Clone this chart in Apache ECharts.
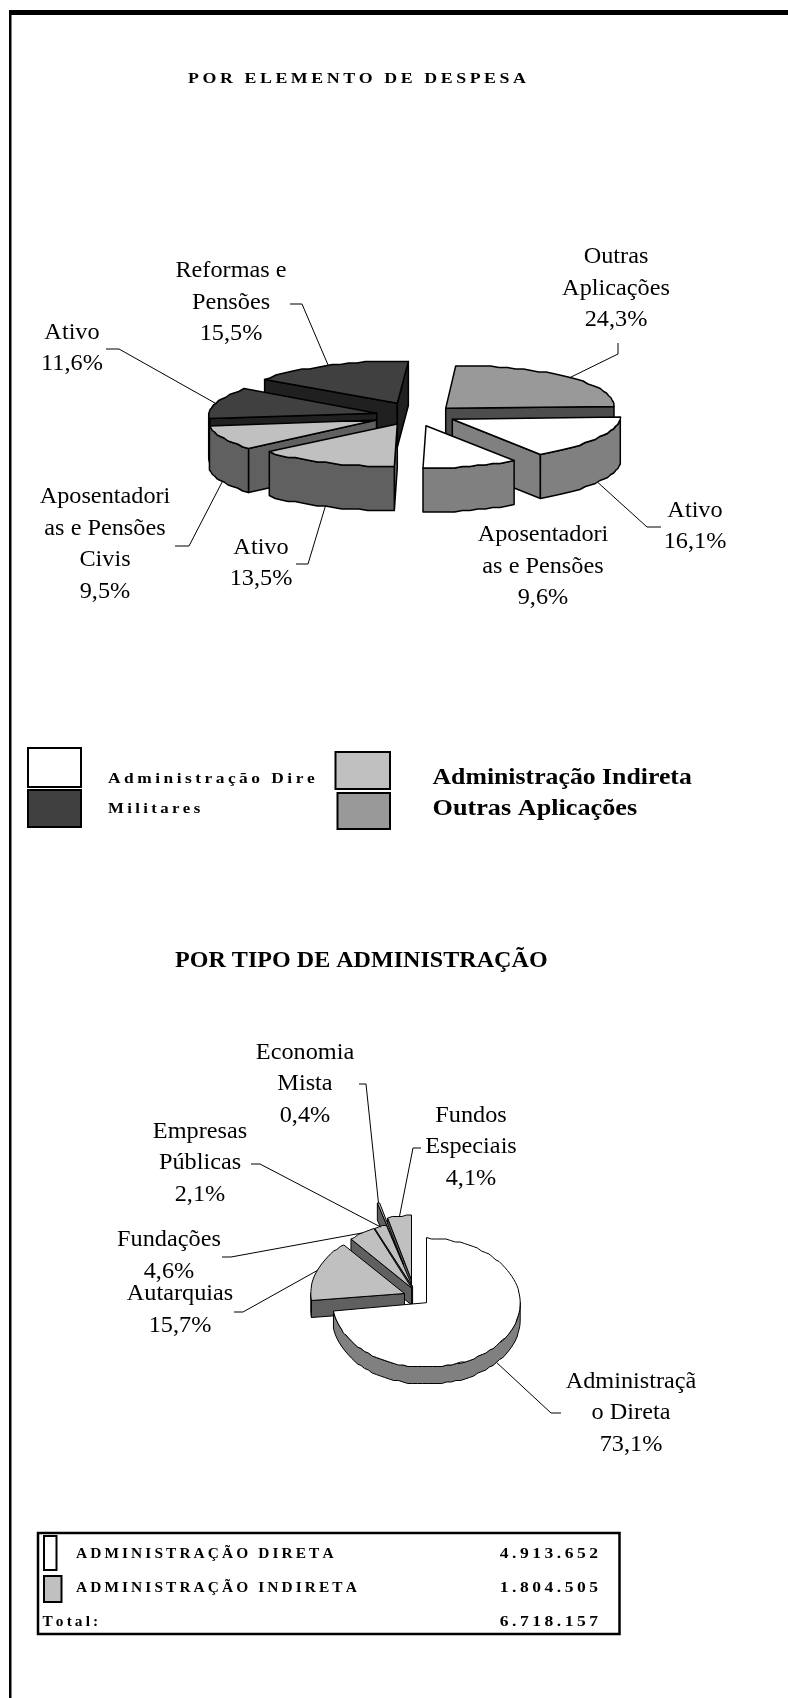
<!DOCTYPE html>
<html>
<head>
<meta charset="utf-8">
<title>Despesa</title>
<script src="https://cdn.jsdelivr.net/npm/echarts@6/dist/echarts.min.js"></script>
<style>
    html, body { margin: 0; padding: 0; background: #fff; }
    #main { width: 788px; height: 1698px; }
</style>
</head>
<body>
<div id="main"></div>
<script>
    // chart data
    const despesaNames = ['Outras\nAplicações', 'Ativo', 'Aposentadori\nas e Pensões', 'Ativo', 'Aposentadori\nas e Pensões\nCivis', 'Ativo', 'Reformas e\nPensões']
    const despesaValues = [24.3, 16.1, 9.6, 13.5, 9.5, 11.6, 15.5]
    const tipoNames = ['Administraçã\no Direta', 'Autarquias', 'Fundações', 'Empresas\nPúblicas', 'Economia\nMista', 'Fundos\nEspeciais']
    const tipoValues = [73.1, 15.7, 4.6, 2.1, 0.4, 4.1]
    const legendLeft = ['Administração Dire', 'Militares']
    const legendRight = ['Administração Indireta', 'Outras Aplicações']
    const tableNames = ['ADMINISTRAÇÃO DIRETA', 'ADMINISTRAÇÃO INDIRETA', 'Total:']
    const tableValues = ['4.913.652', '1.804.505', '6.718.157']

    // look of the two pies, slices clockwise from 12 o'clock
    const WHITE = '#ffffff', LIGHT = '#c0c0c0', MID = '#999999', DARK = '#404040'
    const despesaLook = {
        rx: 168, ry: 42.5, depth: 44, skewTop: 10, skewBottom: 3, narrow: 0.06, line: 1.5,
        order: [6, 0, 5, 4, 3, 1, 2],
        apex: [[445.7, 408.3], [452.3, 419.3], [426, 425.7], [397.3, 424], [376.5, 420], [376.7, 413.3], [397.3, 403.3]],
        top: [MID, WHITE, WHITE, LIGHT, LIGHT, DARK, DARK],
        side: ['#4d4d4d', '#808080', '#808080', '#606060', '#606060', '#202020', '#202020'],
        label: [[616, 288.5], [695, 526.5], [543, 566.5], [261, 563.5], [105, 544.5], [72, 348.5], [231, 302.5]],
        elbow: [[[618, 343], [618, 354]], [[661, 527], [647, 527]], null, [[296, 564], [308, 564]], [[175, 546], [189, 546]], [[106, 349], [119, 349]], [[290, 304], [302, 304]]]
    }
    const tipoLook = {
        rx: 93.7, ry: 64.5, depth: 17, skewTop: 0, skewBottom: 0, narrow: 0, line: 1,
        order: [5, 4, 3, 2, 1, 0],
        apex: [[426.5, 1302.7], [404.5, 1293.5], [411.6, 1288], [412.6, 1287], [403.5, 1264.7], [411.5, 1280]],
        top: [WHITE, LIGHT, LIGHT, LIGHT, LIGHT, LIGHT],
        side: ['#808080', '#606060', '#606060', '#606060', '#606060', '#606060'],
        label: [[631, 1413], [180, 1310], [169, 1256], [200, 1163], [305, 1084], [471, 1147]],
        elbow: [[[561, 1413], [551, 1413]], [[234, 1312], [243, 1312]], [[222, 1257], [231, 1257]], [[251, 1164], [260, 1164]], [[359, 1084], [366, 1084]], [[421, 1148], [413, 1148]]]
    }

    const spaced = (str, sep) => str.split('').join(sep || '\u2009')
    const percent = v => v.toFixed(1).replace('.', ',') + '%'

    function pieItem(values, names, look) {
        // cumulative angles in degrees
        const from = []
        let sum = 0
        values.forEach(v => { from.push(sum * 3.6); sum += v })

        return function (params, api) {
            const i = api.value(0)
            const a0 = from[i]
            const a1 = a0 + api.value(1) * 3.6
            const [cx, cy] = look.apex[i]

            const edge = deg => {
                const t = deg * Math.PI / 180
                const c = Math.cos(t)
                const s = Math.sin(t)
                // lower right quarter is drawn a bit narrower in the original
                const rx = c < 0 && s > 0 ? look.rx * (1 + look.narrow * c) : look.rx
                const x = cx + rx * s + c * (c > 0 ? look.skewTop : look.skewBottom)
                // the rim of the original is a little stepped
                return [x, Math.round((cy - look.ry * c) / 1.5) * 1.5]
            }
            const down = p => [p[0], p[1] + look.depth]
            const arc = (s, e) => {
                const pts = []
                const n = Math.max(1, Math.round((e - s) / 3))
                for (let k = 0; k <= n; k++) pts.push(edge(s + (e - s) * k / n))
                return pts
            }
            const face = (points, fill) => ({
                type: 'polygon',
                shape: { points },
                style: { fill, stroke: '#000', lineWidth: look.line, lineJoin: 'round' }
            })
            const cut = a => {
                const p = edge(a)
                return face([[cx, cy], p, down(p), [cx, cy + look.depth]], look.side[i])
            }

            const children = []
            // only the cut faces turned towards the viewer
            if (a0 >= 180) children.push(cut(a0))
            if (a1 <= 180 || a1 > 359.9) children.push(cut(a1))
            const w0 = Math.max(a0, 90), w1 = Math.min(a1, 270)
            if (w0 < w1) {
                const rim = arc(w0, w1)
                children.push(face(rim.concat(rim.map(down).reverse()), look.side[i]))
            }
            children.push(face([[cx, cy]].concat(arc(a0, a1)), look.top[i]))

            // leader line lands on the middle of the slice's rim
            if (look.elbow[i]) {
                const mid = (a0 + a1) / 2
                const tip = mid > 90 && mid < 270 ? down(edge(mid)) : edge(mid)
                children.push({
                    type: 'polyline',
                    shape: { points: look.elbow[i].concat([tip]) },
                    style: { fill: 'none', stroke: '#000', lineWidth: 1 }
                })
            }
            children.push({
                type: 'text',
                x: look.label[i][0],
                y: look.label[i][1],
                scaleX: 1.055,
                style: {
                    text: names[i] + '\n' + percent(values[i]),
                    font: '23px "Liberation Serif"',
                    lineHeight: 31.5,
                    fill: '#000',
                    align: 'center',
                    verticalAlign: 'middle'
                }
            })
            return { type: 'group', children }
        }
    }

    function pieSeries(values, names, look) {
        return {
            type: 'custom',
            coordinateSystem: 'none',
            silent: true,
            animation: false,
            clip: false,
            renderItem: pieItem(values, names, look),
            data: look.order.map(i => [i, values[i]])
        }
    }

    const box = (x, y, w, h, fill) => ({
        type: 'rect',
        shape: { x, y, width: w, height: h },
        style: { fill, stroke: '#000', lineWidth: 2 }
    })
    const label = (x, y, text, font, stretch, align) => ({
        type: 'text',
        x, y,
        scaleX: stretch,
        style: { text, font, fill: '#000', align: align || 'left', verticalAlign: 'middle' }
    })

    const serif = '"Liberation Serif"'
    const graphics = [
        // page frame
        { type: 'rect', shape: { x: 9, y: 10, width: 779, height: 5 }, style: { fill: '#000' } },
        { type: 'rect', shape: { x: 9, y: 10, width: 2.5, height: 1688 }, style: { fill: '#000' } },
        // titles
        label(188, 79, spaced('POR ELEMENTO DE DESPESA'), 'bold 15px ' + serif, 1.19),
        label(175, 961, 'POR TIPO DE ADMINISTRAÇÃO', 'bold 23px ' + serif, 1.047),
        // legend
        box(28, 748, 53, 39, WHITE),
        box(28, 790, 53, 37, DARK),
        box(335.5, 752, 54.5, 37, LIGHT),
        box(337.5, 793, 52.5, 36, MID),
        label(108, 779, spaced(legendLeft[0]), 'bold 15px ' + serif, 1.16),
        label(108, 809, spaced(legendLeft[1]), 'bold 15px ' + serif, 1.12),
        label(432.5, 778, legendRight[0], 'bold 23px ' + serif, 1.12),
        label(432.5, 809, legendRight[1], 'bold 23px ' + serif, 1.14),
        // table
        { type: 'rect', shape: { x: 38, y: 1533, width: 581.5, height: 101 }, style: { fill: 'none', stroke: '#000', lineWidth: 2.5 } },
        box(44, 1536, 12.5, 34, WHITE),
        box(44, 1576, 17.5, 26, LIGHT)
    ]
    const rowY = [1554.5, 1588.5, 1622.5]
    tableNames.forEach((name, i) => {
        graphics.push(label(i < 2 ? 76 : 42.5, rowY[i], spaced(name), 'bold 14px ' + serif, 1.1))
        graphics.push(label(598, rowY[i], spaced(tableValues[i]), 'bold 15px ' + serif, 1.17, 'right'))
    })

    let myChart = echarts.init(document.getElementById('main'))
    myChart.setOption({
        backgroundColor: '#fff',
        animation: false,
        graphic: graphics,
        series: [
            pieSeries(despesaValues, despesaNames, despesaLook),
            pieSeries(tipoValues, tipoNames, tipoLook)
        ]
    })
</script>
</body>
</html>
